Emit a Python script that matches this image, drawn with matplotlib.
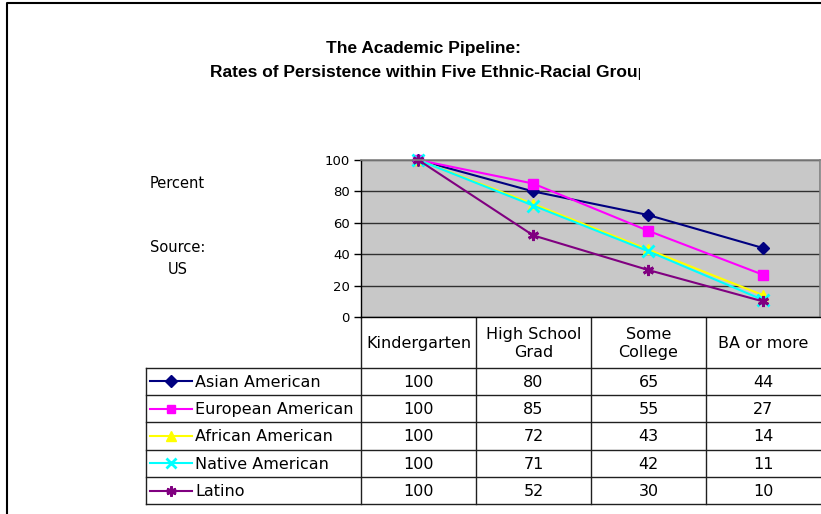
import numpy as np
import matplotlib.pyplot as plt
from matplotlib.patches import Rectangle

# categories and persistence rates (percent)
stages = ['Kindergarten', 'High School\nGrad', 'Some\nCollege', 'BA or more']
groups = ['Asian American', 'European American', 'African American',
          'Native American', 'Latino']
asian = [100, 80, 65, 44]
european = [100, 85, 55, 27]
african = [100, 72, 43, 14]
native = [100, 71, 42, 11]
latino = [100, 52, 30, 10]
series = [asian, european, african, native, latino]

colors = ['#000080', '#ff00ff', '#ffff00', '#00ffff', '#800080']
markers = ['D', 's', '^', 'x', (6, 2, 0)]
msizes = [6.5, 7, 7.5, 8, 8]

W, H = 821, 514
fig = plt.figure(figsize=(W / 100, H / 100), dpi=100)

# overlay in pixel coords for the frame, labels and data table
ov = fig.add_axes([0, 0, 1, 1])
ov.set_xlim(0, W)
ov.set_ylim(H, 0)
ov.axis('off')

# plot area
x0, x1, ytop, ybot = 361, 820, 160, 317
ax = fig.add_axes([x0 / W, 1 - ybot / H, (x1 - x0) / W, (ybot - ytop) / H])
ax.set_facecolor('#c8c8c8')
xs = np.arange(len(stages)) + 0.5
for vals, c, m, ms in zip(series, colors, markers, msizes):
    ax.plot(xs, vals, color=c, lw=1.5, marker=m, ms=ms, mew=2 if m in ('x', (6, 2, 0)) else 1,
            mec=c, mfc=c, clip_on=False)
ax.set_xlim(0, 4)
ax.set_ylim(0, 100)
ax.set_xticks([])
ax.set_yticks(range(0, 101, 20))
ax.tick_params(axis='y', direction='out', length=5, width=1, pad=3, labelsize=9.5)
ax.yaxis.grid(True, color='#303030', lw=1)
ax.set_axisbelow(True)
for s in ['top', 'right']:
    ax.spines[s].set_color('#808080')
    ax.spines[s].set_linewidth(1.2)
for s in ['left', 'bottom']:
    ax.spines[s].set_color('black')
    ax.spines[s].set_linewidth(1)

# outer frame
ov.plot([7, 7, W], [H, 3, 3], color='black', lw=1.5)

# title, second line runs past its box and is cut off
tf = 'Liberation Sans'
ov.text(423.5, 48, 'The Academic Pipeline:', ha='center', va='center',
        fontsize=12.5, fontweight='bold', family=tf)
t2 = ov.text(210, 72, 'Rates of Persistence within Five Ethnic-Racial Groups',
             ha='left', va='center', fontsize=12.5, fontweight='bold', family=tf)
t2.set_clip_on(True)
t2.set_clip_path(Rectangle((0, 0), 640, H, transform=ov.transData))

# side labels
ov.text(150, 183, 'Percent', ha='left', va='center', fontsize=10.5)
ov.text(150, 248, 'Source:', ha='left', va='center', fontsize=10.5)
ov.text(168, 270, 'US', ha='left', va='center', fontsize=10.5)

# data table
col_edges = [x0, 476, 591, 706, W]
row_edges = [367.5, 395, 422, 449.5, 477, 504]
lc = '#202020'
for y in row_edges:
    ov.plot([146, W], [y, y], color=lc, lw=1)
ov.plot([146, 146], [row_edges[0], row_edges[-1]], color=lc, lw=1)
for x in col_edges[:-1]:
    ov.plot([x, x], [ybot, row_edges[-1]], color=lc, lw=1)

col_mid = [(a + b) / 2 for a, b in zip(col_edges[:-1], col_edges[1:])]
for xm, lab in zip(col_mid, stages):
    ov.text(xm, (ybot + row_edges[0]) / 2 + 1, lab, ha='center', va='center',
            fontsize=11.5, linespacing=1.25)

for i, (g, vals, c, m, ms) in enumerate(zip(groups, series, colors, markers, msizes)):
    yc = (row_edges[i] + row_edges[i + 1]) / 2
    ov.plot([150, 192], [yc, yc], color=c, lw=1.5)
    ov.plot([171], [yc], marker=m, ms=ms * 0.9, color=c, mec=c,
            mew=2 if m in ('x', (6, 2, 0)) else 1)
    ov.text(195, yc + 1, g, ha='left', va='center', fontsize=11.5)
    for xm, v in zip(col_mid, vals):
        ov.text(xm, yc + 1, str(v), ha='center', va='center', fontsize=11.5)

fig.savefig('out.png', dpi=100)
